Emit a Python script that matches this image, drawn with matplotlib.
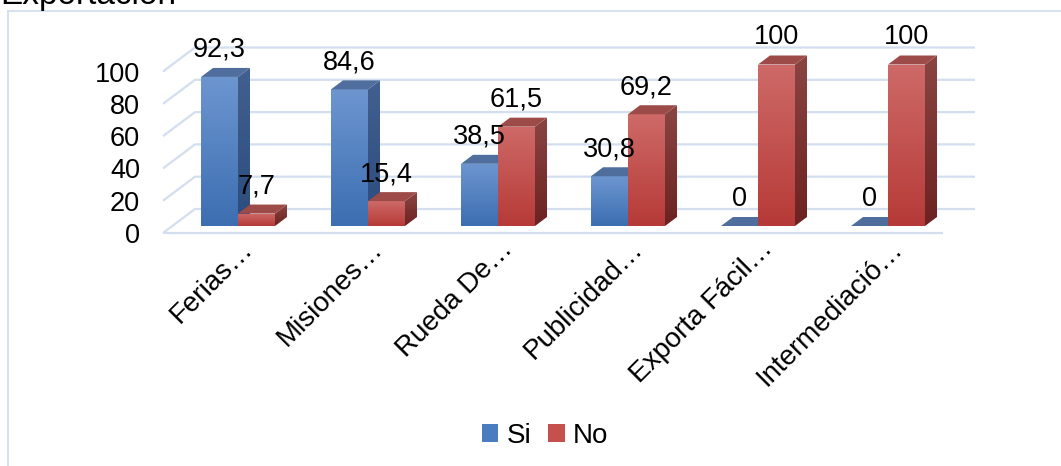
import numpy as np
import matplotlib
matplotlib.use("Agg")
import matplotlib.pyplot as plt
from matplotlib.patches import Polygon, Rectangle, Patch
from matplotlib.lines import Line2D
from matplotlib.colors import LinearSegmentedColormap

plt.rcParams["font.family"] = ["Liberation Sans", "DejaVu Sans"]

# ---- data ----
title = "Exportación"
categories = ["Ferias\u2026", "Misiones\u2026", "Rueda De\u2026",
              "Publicidad\u2026", "Exporta Fácil\u2026", "Intermediació\u2026"]
si_values = [92.3, 84.6, 38.5, 30.8, 0, 0]
no_values = [7.7, 15.4, 61.5, 69.2, 100, 100]
series_names = ["Si", "No"]
y_ticks = [0, 20, 40, 60, 80, 100]

# ---- styling ----
W, H = 1061, 466
grid_color = "#D3DEEE"
styles = {
    "Si": dict(front=("#3C6EB1", "#6D96D0"), side=("#2B4C7E", "#42608F"), top="#4F6E9E"),
    "No": dict(front=("#B63A37", "#CE6A68"), side=("#6C2220", "#8A4543"), top="#9C4B49"),
}
legend_colors = {"Si": "#4A7CC0", "No": "#C6504D"}
num_size = 19.5
cat_size = 20

fig = plt.figure(figsize=(W / 100, H / 100), dpi=100)
n = len(categories)
xlim = (-0.5, n - 0.5)
ylim = (0, 130)            # headroom above 100 for the bar tops
px_per_unit = 1.615        # vertical scale of the value axis
ax_left, ax_bottom, ax_w = 163, 233, 780
ax_h = px_per_unit * (ylim[1] - ylim[0])
ax = fig.add_axes([ax_left / W, ax_bottom / H, ax_w / W, ax_h / H])
ax.set_xlim(*xlim)
ax.set_ylim(*ylim)
ax.patch.set_visible(False)
for s in ax.spines.values():
    s.set_visible(False)

# pixel -> data conversion for the pseudo-3D depth offsets
sx = ax_w / (xlim[1] - xlim[0])
sy = px_per_unit


def px(dx, dy):
    return dx / sx, dy / sy


wall_dx, wall_dy = px(32, 24)   # depth of floor / back wall
pos_dx, pos_dy = px(10, 7)      # bars sit in the middle of the depth
dep_dx, dep_dy = px(12, 9)      # depth of each bar
bar_w = 37 / sx

# back wall gridlines with the slanted left edge, plus front floor edge
for v in y_ticks:
    ax.plot([xlim[0], xlim[0] + wall_dx, xlim[1] + wall_dx],
            [v, v + wall_dy, v + wall_dy], color=grid_color, lw=1.6,
            clip_on=False, zorder=1, solid_capstyle="butt")
ax.plot([xlim[0], xlim[1]], [0, 0], color=grid_color, lw=1.6,
        clip_on=False, zorder=1, solid_capstyle="butt")

grad = np.linspace(0, 1, 256).reshape(-1, 1)


def gradient_fill(patch, extent, colors, z):
    cmap = LinearSegmentedColormap.from_list("g", list(colors))
    im = ax.imshow(grad, extent=extent, cmap=cmap, origin="lower",
                   aspect="auto", zorder=z, interpolation="bilinear")
    im.set_clip_path(patch)


def draw_bar(x_left, value, st, z):
    xl = x_left + pos_dx
    xr = xl + bar_w
    yb = pos_dy
    yt = value + pos_dy
    if value > 0:
        front = Rectangle((xl, yb), bar_w, value, facecolor="none",
                          edgecolor="none", zorder=z)
        ax.add_patch(front)
        gradient_fill(front, [xl, xr, yb, yt], st["front"], z)
        side = Polygon([(xr, yb), (xr + dep_dx, yb + dep_dy),
                        (xr + dep_dx, yt + dep_dy), (xr, yt)],
                       closed=True, facecolor="none", edgecolor="none", zorder=z)
        ax.add_patch(side)
        gradient_fill(side, [xr, xr + dep_dx, yb, yt + dep_dy], st["side"], z)
    top = Polygon([(xl, yt), (xr, yt), (xr + dep_dx, yt + dep_dy),
                   (xl + dep_dx, yt + dep_dy)], closed=True,
                  facecolor=st["top"], edgecolor="none", zorder=z + 0.01)
    ax.add_patch(top)
    return xl + bar_w / 2, yt


def fmt(v):
    return f"{v:g}".replace(".", ",")


z = 2.0
label_items = []
for i in range(n):
    for name, vals, x_left in (("Si", si_values, i - bar_w),
                               ("No", no_values, i)):
        cx, top_y = draw_bar(x_left, vals[i], styles[name], z)
        label_items.append((cx, top_y, vals[i]))
        z += 0.1

for cx, top_y, v in label_items:
    ax.annotate(fmt(v), xy=(cx, top_y), xytext=(0, 27 * 0.72),
                textcoords="offset points", ha="center", va="center",
                fontsize=num_size, color="black", zorder=20, annotation_clip=False)

# category labels, rotated
ax.set_xticks([])
for i, cat in enumerate(categories):
    ax.annotate(cat, xy=(i, 0), xytext=(26 * 0.72, -17 * 0.72),
                textcoords="offset points", rotation=45, rotation_mode="anchor",
                ha="right", va="baseline", fontsize=cat_size, color="black",
                annotation_clip=False)

ax.set_yticks(y_ticks)
ax.set_yticklabels([str(t) for t in y_ticks])
ax.tick_params(axis="y", length=0, pad=16.5, labelsize=num_size, labelcolor="black")

ax.set_xlim(*xlim)
ax.set_ylim(*ylim)

# legend
handles = [Patch(facecolor=legend_colors[s], edgecolor="none") for s in series_names]
fig.legend(handles, series_names, loc="center", bbox_to_anchor=(545 / W, 1 - 436 / H),
           ncol=2, frameon=False, fontsize=cat_size, handlelength=0.6, handleheight=0.6,
           handletextpad=0.3, columnspacing=0.6, borderpad=0)

# chart area border and title
border_c = "#D3DEEE"
fig.add_artist(Line2D([8 / W, 8 / W], [0, 1 - 11 / H], transform=fig.transFigure,
                      color=border_c, lw=1.3))
fig.add_artist(Line2D([8 / W, 1], [1 - 11 / H, 1 - 11 / H], transform=fig.transFigure,
                      color=border_c, lw=1.3))
fig.text(0.5 / W, 1 - 4 / H, title, fontsize=24, ha="left", va="baseline", color="black")

fig.savefig("out.png", dpi=100)
